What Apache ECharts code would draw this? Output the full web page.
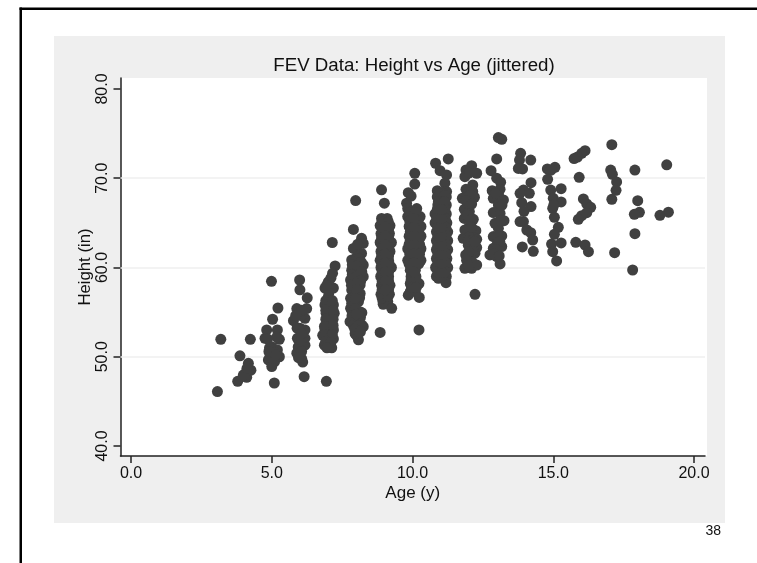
<!DOCTYPE html>
<html><head><meta charset="utf-8">
<script src="https://cdn.jsdelivr.net/npm/echarts@6/dist/echarts.min.js"></script>
<style>html,body{margin:0;padding:0;background:#fff}#c{width:757px;height:563px}</style>
</head><body><div id="c"></div>
<script>
const xTicks = [0, 5, 10, 15, 20];
const yTicks = [40, 50, 60, 70, 80];
const gridValues = [50, 60, 70];
const chartTitle = 'FEV Data: Height vs Age (jittered)';
const xName = 'Age (y)';
const yName = 'Height (in)';
const pageNumber = '38';

const age3to4 = [[3.07,46.1],[3.19,51.95],[3.79,47.25],[3.87,50.1],[4.24,51.95],[4.11,47.7],[4.05,48.1],[4.26,48.5],[4.17,49.26],[3.99,47.95],[4.12,48.7]];
const age5 = [[5.09,47.06],[4.99,58.45],[5.22,55.46],[5.03,54.2],[4.82,53],[5.2,53],[4.76,52.06],[5.27,51.95],[5,51.13],[5.2,50.76],[4.94,50.2],[5.27,50],[4.88,49.64],[5.1,49.45],[5,48.9],[5.06,50.57],[4.85,52],[5.18,52.2],[4.92,51],[5.05,49.8],[4.9,50.6],[5.15,50.2]];
const age6 = [[5.99,58.6],[6,57.5],[6.26,56.6],[5.89,55.4],[6.24,55.4],[6.18,54.3],[5.77,54.04],[6,53.2],[6.18,53],[5.91,52.06],[6.18,52.06],[6.18,51.3],[5.89,50.4],[6.06,49.8],[6.1,49.4],[6.15,47.77],[5.94,51.1],[5.9,53.2],[6.05,54.6],[6.05,51.9],[6.05,55.2],[5.85,54.6],[6.06,50.6],[5.95,49.9],[6.05,52.6]];
const age7 = [[6.94,47.25],[7.15,62.8],[7.25,60.17],[7.16,59.35],[7.01,58.4],[6.89,57.7],[7.19,57.7],[7.01,56.7],[6.89,55.8],[7.19,55.8],[6.93,54.86],[7.22,54.86],[7.01,53.9],[6.89,53],[7.19,53],[6.81,52.4],[7.19,52],[6.87,51.3],[7.13,51],[7.01,51.9],[7.03,55.4],[7.03,57.2],[7.03,54.4],[7.03,53],[7,51.1],[7.1,58.8],[6.95,58],[6.92,56.3],[7.15,56.3],[6.92,55.2],[7.18,55.2],[6.92,54.2],[7.18,54.2],[6.87,53.4],[7.18,53.5],[6.9,52.5],[7.15,52.5],[6.92,51.7],[7.1,51.6],[6.96,51]];
const age8 = [[7.98,67.5],[7.9,64.27],[8.19,63.27],[7.9,62.14],[8.25,62.7],[8.19,61.58],[7.84,60.84],[8.25,60.28],[7.84,59.7],[8.08,59.7],[8.25,58.97],[7.8,58.6],[8.14,58.04],[7.84,57.47],[8.14,57.1],[7.8,56.54],[8.08,56.17],[7.8,55.42],[8.2,54.94],[7.78,53.93],[8.2,53.55],[8.02,53],[8.02,52.36],[8.08,51.9],[7.96,52.6],[8.25,53.37],[8.13,55.05],[7.84,55.24],[7.97,60.8],[7.97,58.8],[7.97,57],[7.97,56],[8,54.2],[8.02,61.2],[8.05,62.6],[8.1,61],[7.86,60.3],[8.18,60.6],[8.02,60.2],[7.86,59.2],[8.2,59.5],[8.02,59],[7.83,58],[8.16,58.5],[8,58.2],[8.02,57.5],[8.12,56.6],[7.84,56],[7.97,56.5],[7.97,55.4],[7.85,54.6],[8.15,54.4],[8,54.8],[7.9,53.5],[8.1,53.5],[7.95,53.1],[8.15,52.8]];
const age9 = [[8.9,68.7],[9,67.2],[8.9,65.5],[9.1,65.5],[8.85,64.7],[9.2,64.7],[8.88,63.8],[9.18,63.8],[8.85,62.8],[9.25,62.8],[8.88,61.8],[9.2,61.8],[8.85,60.8],[9.15,60.8],[8.88,60],[9.25,60],[8.87,59],[9.15,59],[8.9,58],[9.2,58],[8.88,57],[9.18,57],[8.95,56.2],[9.12,56.2],[8.96,55.87],[9.26,55.42],[8.85,52.73],[9.03,65],[9.03,64],[9.03,63],[9.03,62],[9.03,61],[9.03,60],[9.03,59],[9.03,58],[9.03,57],[8.92,65.1],[9.14,65.1],[8.93,64.3],[9.15,64.3],[8.9,63.3],[9.15,63.3],[8.92,62.3],[9.16,62.3],[8.9,61.3],[9.15,61.3],[8.92,60.4],[9.17,60.4],[8.92,59.5],[9.15,59.5],[8.92,58.5],[9.15,58.5],[8.92,57.5],[9.15,57.5],[9,56.6],[8.92,56.6],[9.12,56.8],[9.03,64.5],[9.03,63.5],[9.03,62.5],[9.03,61.5],[9.03,60.5],[9.03,59.5],[9.03,58.5],[9.03,57.5]];
const age10 = [[10.08,70.55],[10.08,69.35],[9.85,68.38],[9.79,67.2],[9.83,66.6],[10.15,66.6],[9.83,65.7],[10.27,65.7],[9.88,64.6],[10.3,64.6],[9.88,63.5],[10.3,63.5],[9.83,62.1],[10.3,62.1],[9.83,60.8],[10.3,60.8],[9.92,59.7],[10.1,59.7],[9.92,58.2],[10.23,58.2],[9.92,57.3],[10.1,57.3],[9.85,56.9],[10.24,56.65],[10.23,53],[10.05,66],[10.05,65],[10.05,64],[10.05,63],[10.05,62],[10.05,61],[10.05,60],[10.05,59],[10.05,58],[9.95,68],[9.9,66.2],[10.1,66.2],[9.9,65.2],[10.2,65.2],[9.92,64],[10.22,64],[9.92,63],[10.22,63],[9.88,62.6],[10.25,62.6],[9.9,61.5],[10.25,61.5],[9.88,60.4],[10.22,60.4],[9.95,59],[10.12,59],[9.95,58.6],[10.12,58.6],[9.97,57.8],[10.14,57.8],[10.05,65.5],[10.05,64.5],[10.05,63.5],[10.05,62.5],[10.05,61.5],[10.05,60.5],[10.05,59.5]];
const age11 = [[11.27,72.16],[10.82,71.68],[10.98,70.85],[11.21,70.37],[11.15,69.44],[10.88,68.61],[11.21,68.5],[10.88,67.9],[11.2,67.9],[10.9,67],[11.2,67],[10.8,66],[11.2,66],[10.8,65],[11.22,65],[10.85,64],[11.25,64],[10.85,63],[11.25,63],[10.85,62],[11.25,62],[10.85,61],[11.22,61],[10.82,60],[11.25,60],[10.85,59],[11.2,59],[10.92,58.79],[11.19,58.3],[11.03,67],[11.03,66],[11.03,65],[11.03,64],[11.03,63],[11.03,62],[11.03,61],[11.03,60],[11.03,59],[11.05,68.4],[11.12,68],[10.92,67.4],[11.14,67.4],[10.88,66.5],[11.15,66.5],[10.86,65.5],[11.16,65.5],[10.9,64.5],[11.18,64.5],[10.9,63.5],[11.18,63.5],[10.9,62.5],[11.18,62.5],[10.9,61.5],[11.18,61.5],[10.9,60.5],[11.18,60.5],[10.9,59.5],[11.16,59.5],[11.03,59.5],[11.03,60.5],[11.03,61.5],[11.03,62.5],[11.03,63.5],[11.03,64.5],[11.03,65.5],[11.03,66.5]];
const age12 = [[12.1,71.41],[11.9,70.93],[12.28,70.56],[11.86,70.18],[12.02,70.6],[12.14,69.25],[11.9,68.76],[12.14,68.5],[11.77,67.75],[12.2,67.87],[11.84,66.52],[11.84,65.5],[12.16,65.4],[12.25,64.13],[11.8,63.27],[12.16,63.39],[12.28,63.16],[11.98,64.4],[11.98,62.5],[12.28,62.23],[11.89,61.4],[12.22,61.6],[12.04,61.03],[11.86,59.91],[12.1,59.91],[12.28,60.28],[12.22,57],[11.98,67.2],[12.02,66.26],[11.86,64.2],[12,63.4],[12.1,62.4],[12.04,68.1],[11.9,67.5],[12.1,67.1],[11.95,65.9],[12.02,65.3],[12.1,64.5],[11.98,63],[12.12,63],[12.14,61.9],[11.98,61.7],[11.92,60.8],[12.12,60.6],[12,60.2],[12.2,62.9]];
const age13 = [[13.05,74.55],[13.17,74.36],[12.99,72.16],[12.79,70.85],[12.99,70],[13.13,69.55],[12.83,68.61],[13.11,68.76],[13.23,67.57],[12.87,67.75],[13.05,67],[12.87,66.15],[13.25,65.25],[12.93,64.95],[13.11,66.07],[13.17,63.53],[12.87,63.46],[12.87,62.15],[13.17,62.34],[12.75,61.41],[12.99,61.22],[13.11,60.4],[13.05,64.4],[13.05,68.2],[13.02,62.8],[12.95,68.3],[13.18,67],[13.12,65.3],[13.03,63.5],[13.1,62.9],[12.98,62],[12.88,61.5],[13.08,61.3]];
const age14 = [[13.84,72.79],[14.2,72.04],[13.8,72.04],[13.91,71.04],[13.76,71.1],[14.21,69.5],[13.94,68.68],[14.15,68.31],[13.88,67.26],[14.21,66.82],[13.96,66.29],[13.94,65.14],[14.06,64.2],[14.2,63.9],[14.27,63.08],[13.9,62.3],[14.29,61.81],[13.82,68.31],[13.82,65.14]];
const age15 = [[15.06,71.22],[14.79,71.04],[14.92,70.9],[14.8,69.88],[14.91,68.68],[15.28,68.83],[15,67.75],[15.28,67.34],[14.98,66.63],[15.04,65.62],[15.18,64.5],[15.04,63.72],[14.94,62.63],[15.28,62.75],[14.98,61.77],[15.12,60.73],[15.02,67]];
const age16 = [[16.13,73.09],[16.01,72.79],[15.86,72.38],[15.74,72.2],[15.92,70.1],[16.07,67.68],[16.19,67.12],[16.33,66.74],[16.19,66.14],[16.01,65.81],[15.89,65.4],[15.8,62.82],[16.13,62.52],[16.25,61.77]];
const age17 = [[17.08,73.76],[17.04,70.92],[17.1,70.44],[17.25,69.58],[17.23,68.65],[17.08,67.64],[17.18,61.66]];
const age18 = [[17.9,70.92],[18,67.49],[18.06,66.18],[17.88,65.96],[17.9,63.79],[17.82,59.72]];
const age19 = [[19.03,71.5],[19.09,66.2],[18.79,65.85]];

const points = [].concat(age3to4, age5, age6, age7, age8, age9, age10, age11, age12, age13, age14, age15, age16, age17, age18, age19);
const FONT = '"Liberation Sans", Arial, sans-serif';
const chart = echarts.init(document.getElementById('c'), null, {renderer: 'canvas'});
chart.setOption({
  animation: false,
  backgroundColor: '#ffffff',
  title: {text: chartTitle, left: 409, top: 51, textAlign: 'center',
    textStyle: {fontFamily: FONT, fontSize: 18.7, fontWeight: 'normal', color: '#111'}},
  graphic: [
    {type: 'rect', z: -10, shape: {x: 54, y: 36, width: 671, height: 487}, style: {fill: '#efefef'}},
    {type: 'rect', z: -9, shape: {x: 121, y: 78, width: 586, height: 378}, style: {fill: '#ffffff'}},
    {type: 'rect', z: 5, shape: {x: 19.5, y: 7.5, width: 737.5, height: 2.5}, style: {fill: '#000'}},
    {type: 'rect', z: 5, shape: {x: 19.5, y: 7.5, width: 2.5, height: 555.5}, style: {fill: '#000'}},
    {type: 'text', z: 5, style: {x: 705.5, y: 524, text: pageNumber, fontFamily: FONT, fontSize: 14, fill: '#111'}}
  ],
  grid: {left: 120.5, top: 78, width: 584.5, height: 378, containLabel: false},
  xAxis: {type: 'value', min: -0.373, max: 20.39, name: xName, nameLocation: 'middle', nameGap: 29,
    nameMoveOverlap: false,
    nameTextStyle: {fontFamily: FONT, fontSize: 17, color: '#111'},
    axisLine: {onZero: false, lineStyle: {color: '#222', width: 1.5}},
    axisTick: {length: 7, customValues: xTicks, lineStyle: {color: '#222', width: 1.5}},
    axisLabel: {customValues: xTicks, formatter: v => v.toFixed(1), margin: 10, fontFamily: FONT, fontSize: 16, color: '#111'},
    splitLine: {show: false}},
  yAxis: {type: 'value', min: 38.88, max: 81.23, name: yName, nameLocation: 'middle', nameGap: 27, nameRotate: 90,
    nameMoveOverlap: false,
    nameTextStyle: {fontFamily: FONT, fontSize: 16.7, color: '#111'},
    axisLine: {onZero: false, lineStyle: {color: '#222', width: 1.5}},
    axisTick: {length: 7, customValues: yTicks, lineStyle: {color: '#222', width: 1.5}},
    axisLabel: {customValues: yTicks, rotate: 90, formatter: v => v.toFixed(1), margin: 10, fontFamily: FONT, fontSize: 16, color: '#111'},
    splitLine: {show: false}},
  series: [
    {type: 'scatter', z: 1, data: [], symbolSize: 0,
      markLine: {z: 1, silent: true, symbol: 'none', label: {show: false}, animation: false,
        lineStyle: {color: '#efefef', width: 1.5, type: 'solid'},
        data: gridValues.map(v => ({yAxis: v}))}},
    {type: 'scatter', z: 6, data: points, symbol: 'circle', symbolSize: 11,
      itemStyle: {color: '#404040', opacity: 1}}
  ]
});
</script></body></html>
